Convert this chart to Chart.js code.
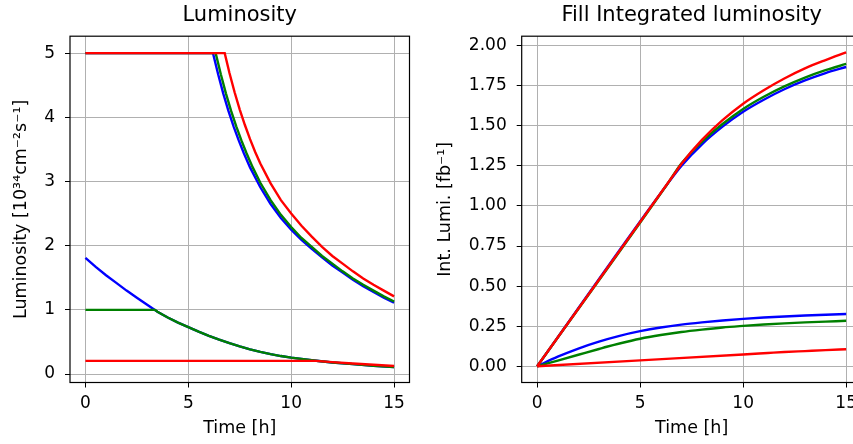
<!DOCTYPE html>
<html>
<head>
<meta charset="utf-8">
<script src="https://cdn.jsdelivr.net/npm/chart.js@4.4.1/dist/chart.umd.min.js"></script>
<style>
	html, body { margin: 0; padding: 0; background: #fff; overflow: hidden; width: 853px; height: 444px; }
	canvas { position: absolute; top: 0; }
	#canvasLumi { left: 0; }
	#canvasIntLumi { left: 420px; }
</style>
</head>
<body>
<canvas id="canvasLumi" width="420" height="444"></canvas>
<canvas id="canvasIntLumi" width="450" height="444"></canvas>
<script>
"use strict";

// x axis (time in hours)
var xTicks = [0, 5, 10, 15];

// Luminosity [1e34 cm^-2 s^-1] -- high luminosity fills (leveled at 5)
var tBlueHigh = [0, 6.2, 6.45, 6.7, 6.95, 7.2, 7.45, 7.7, 8, 8.5, 9, 9.5, 10, 10.5, 11, 11.5, 12, 12.5, 13, 13.5, 14, 14.5, 15];
var lumiBlueHigh = [5, 5, 4.67, 4.37, 4.10, 3.86, 3.64, 3.44, 3.22, 2.91, 2.65, 2.43, 2.25, 2.09, 1.95, 1.82, 1.69, 1.58, 1.47, 1.37, 1.28, 1.19, 1.11];
var tGreenHigh = [0, 6.33, 6.58, 6.83, 7.08, 7.33, 7.58, 7.83, 8.13, 8.5, 9, 9.5, 10, 10.5, 11, 11.5, 12, 12.5, 13, 13.5, 14, 14.5, 15];
var lumiGreenHigh = [5, 5, 4.67, 4.37, 4.10, 3.86, 3.64, 3.44, 3.22, 2.98, 2.71, 2.48, 2.29, 2.12, 1.98, 1.84, 1.72, 1.60, 1.49, 1.39, 1.30, 1.21, 1.13];
var tRedHigh = [0, 6.77, 7, 7.25, 7.5, 7.75, 8, 8.25, 8.5, 9, 9.5, 10, 10.5, 11, 11.5, 12, 12.5, 13, 13.5, 14, 14.5, 15];
var lumiRedHigh = [5, 5, 4.69, 4.39, 4.12, 3.88, 3.66, 3.46, 3.28, 2.97, 2.71, 2.50, 2.31, 2.14, 1.98, 1.84, 1.72, 1.60, 1.49, 1.39, 1.30, 1.21];

// low luminosity fills
var tBlueLow = [0, 0.5, 1, 1.5, 2, 2.5, 3, 3.5, 4, 4.5, 5, 5.5, 6, 6.5, 7, 7.5, 8, 8.5, 9, 9.5, 10, 11, 12, 13, 14, 15];
var lumiBlueLow = [1.81, 1.67, 1.54, 1.42, 1.30, 1.19, 1.08, 0.97, 0.88, 0.80, 0.73, 0.66, 0.595, 0.535, 0.48, 0.43, 0.385, 0.345, 0.31, 0.28, 0.255, 0.215, 0.18, 0.155, 0.13, 0.11];
var tGreenLow = [0, 3.38, 3.5, 4, 4.5, 5, 5.5, 6, 6.5, 7, 7.5, 8, 8.5, 9, 9.5, 10, 11, 12, 13, 14, 15];
var lumiGreenLow = [1.0, 1.0, 0.97, 0.88, 0.80, 0.73, 0.66, 0.595, 0.535, 0.48, 0.43, 0.385, 0.345, 0.31, 0.28, 0.255, 0.215, 0.18, 0.155, 0.13, 0.11];
var tRedLow = [0, 11.2, 12, 13, 14, 15];
var lumiRedLow = [0.205, 0.205, 0.185, 0.165, 0.145, 0.125];

// Fill integrated luminosity [fb^-1]
var tIntBlueHigh = [0, 6.2, 7, 8, 9, 10, 11, 12, 13, 14, 15];
var intBlueHigh = [0, 1.116, 1.250, 1.385, 1.495, 1.588, 1.663, 1.728, 1.783, 1.829, 1.867];
var tIntGreenHigh = [0, 6.33, 7, 8, 9, 10, 11, 12, 13, 14, 15];
var intGreenHigh = [0, 1.139, 1.265, 1.400, 1.511, 1.605, 1.681, 1.746, 1.801, 1.847, 1.886];
var tIntRedHigh = [0, 6.77, 7, 8, 9, 10, 11, 12, 13, 14, 15];
var intRedHigh = [0, 1.22, 1.262, 1.412, 1.535, 1.638, 1.722, 1.795, 1.858, 1.910, 1.958];

var tIntBlueLow = [0, 1, 2, 3, 4, 5, 6, 7, 8, 9, 10, 11, 12, 13, 14, 15];
var intBlueLow = [0, 0.060, 0.111, 0.154, 0.190, 0.219, 0.242, 0.260, 0.274, 0.286, 0.296, 0.304, 0.311, 0.317, 0.322, 0.326];
var tIntGreenLow = [0, 1, 2, 3, 3.38, 4, 5, 6, 7, 8, 9, 10, 11, 12, 13, 14, 15];
var intGreenLow = [0, 0.036, 0.072, 0.108, 0.122, 0.1425, 0.172, 0.195, 0.214, 0.229, 0.242, 0.252, 0.261, 0.268, 0.274, 0.279, 0.284];
var tIntRedLow = [0, 5, 10, 11.2, 12, 13, 14, 15];
var intRedLow = [0, 0.037, 0.074, 0.083, 0.089, 0.095, 0.101, 0.106];

var lumiTicks = [0, 1, 2, 3, 4, 5];
var intTicks = [0, 0.25, 0.5, 0.75, 1.0, 1.25, 1.5, 1.75, 2.0];

var FONT = "'DejaVu Sans', sans-serif";

function Pairs(ts, vs) {
	return ts.map(function (t, i) { return { x: t, y: vs[i] }; });
}

// Chart.js paints the first dataset on top, so reds go first
function Line(color, ts, vs, smooth) {
	return {
		data: Pairs(ts, vs),
		borderColor: color,
		borderWidth: 2.4,
		pointRadius: 0,
		fill: false,
		tension: 0,
		cubicInterpolationMode: smooth ? 'monotone' : 'default'
	};
}

// black box around the axes, drawn over the lines like matplotlib spines
var framePlugin = {
	id: 'frame',
	afterDatasetsDraw: function (chart) {
		var a = chart.chartArea;
		var ctx = chart.ctx;
		ctx.save();
		ctx.strokeStyle = '#000';
		ctx.lineWidth = 1.2;
		ctx.strokeRect(a.left, a.top, a.right - a.left, a.bottom - a.top);
		ctx.restore();
	}
};

function FixTicks(values) {
	return function (scale) {
		scale.ticks = values.map(function (v) { return { value: v }; });
	};
}

function MakeChart(canvasId, cfg) {
	return new Chart(document.getElementById(canvasId), {
		type: 'line',
		data: { datasets: cfg.datasets },
		options: {
			responsive: false,
			animation: false,
			devicePixelRatio: 1,
			layout: { padding: { left: 0, right: cfg.padRight, top: 0, bottom: 0 } },
			plugins: {
				legend: { display: false },
				tooltip: { enabled: false },
				title: {
					display: true,
					text: cfg.title,
					fullSize: false,
					color: '#000',
					font: { family: FONT, size: 21, weight: 'normal' },
					padding: { top: 3, bottom: 8 }
				}
			},
			scales: {
				x: {
					type: 'linear',
					min: -0.75,
					max: 15.75,
					afterBuildTicks: FixTicks(xTicks),
					afterFit: function (s) { s.height = 61.5; },
					grid: { color: '#b0b0b0', lineWidth: 1, tickColor: '#000', tickLength: 5 },
					border: { display: false },
					ticks: { color: '#000', font: { family: FONT, size: 17 }, padding: 5.5, maxRotation: 0 },
					title: {
						display: true,
						text: 'Time [h]',
						color: '#000',
						font: { family: FONT, size: 17.5 },
						padding: { top: 0, bottom: 5.5 }
					}
				},
				y: {
					type: 'linear',
					min: cfg.yMin,
					max: cfg.yMax,
					afterBuildTicks: FixTicks(cfg.yTicks),
					afterFit: function (s) { s.width = cfg.yWidth; },
					grid: { color: '#b0b0b0', lineWidth: 1, tickColor: '#000', tickLength: 5 },
					border: { display: false },
					ticks: { color: '#000', font: { family: FONT, size: 17 }, padding: 10, callback: cfg.yFormat },
					title: {
						display: true,
						text: cfg.yLabel,
						color: '#000',
						font: { family: FONT, size: 17.5 },
						padding: { top: cfg.yTitlePad, bottom: 0 }
					}
				}
			}
		},
		plugins: [framePlugin]
	});
}

MakeChart('canvasLumi', {
	title: 'Luminosity',
	yLabel: 'Luminosity [10\u00b3\u2074cm\u207b\u00b2s\u207b\u00b9]',
	yMin: -0.132,
	yMax: 5.264,
	yTicks: lumiTicks,
	yFormat: function (v) { return String(v); },
	yWidth: 70,
	yTitlePad: 11.4,
	padRight: 10.5,
	datasets: [
		Line('#ff0000', tRedLow, lumiRedLow, false),
		Line('#ff0000', tRedHigh, lumiRedHigh, false),
		Line('#008000', tGreenLow, lumiGreenLow, false),
		Line('#008000', tGreenHigh, lumiGreenHigh, false),
		Line('#0000ff', tBlueLow, lumiBlueLow, false),
		Line('#0000ff', tBlueHigh, lumiBlueHigh, false)
	]
});

MakeChart('canvasIntLumi', {
	title: 'Fill Integrated luminosity',
	yLabel: 'Int. Lumi. [fb\u207b\u00b9]',
	yMin: -0.101,
	yMax: 2.059,
	yTicks: intTicks,
	yFormat: function (v) { return v.toFixed(2); },
	yWidth: 101.7,
	yTitlePad: 14.9,
	padRight: 8.4,
	datasets: [
		Line('#ff0000', tIntRedLow, intRedLow, true),
		Line('#ff0000', tIntRedHigh, intRedHigh, true),
		Line('#008000', tIntGreenLow, intGreenLow, true),
		Line('#008000', tIntGreenHigh, intGreenHigh, true),
		Line('#0000ff', tIntBlueLow, intBlueLow, true),
		Line('#0000ff', tIntBlueHigh, intBlueHigh, true)
	]
});
</script>
</body>
</html>
